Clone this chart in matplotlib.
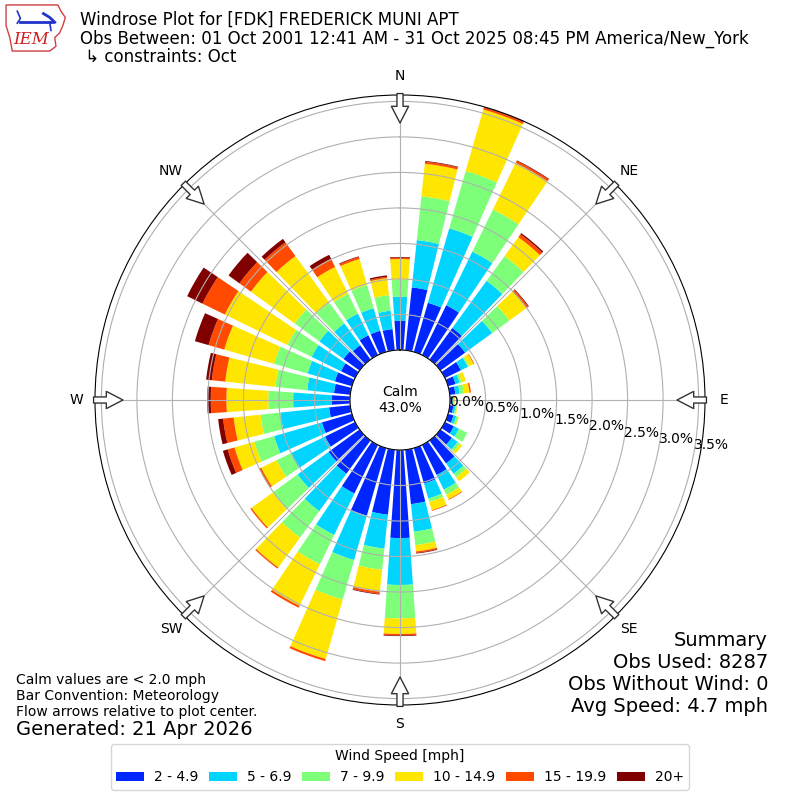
import matplotlib
matplotlib.use("Agg")
import matplotlib.pyplot as plt
import numpy as np
from matplotlib.patches import Patch, Polygon

# direction bins (deg, meteorological) and wind speed bins
directions = np.arange(0, 360, 10)
speed_labels = ["2 - 4.9", "5 - 6.9", "7 - 9.9", "10 - 14.9", "15 - 19.9", "20+"]
colors = ["#0026ff", "#00d4ff", "#7dff7a", "#ffe600", "#ff4a00", "#800000"]

# frequency [%] per direction, one list per speed bin
spd_2 = [0.41, 0.89, 0.72, 0.78, 0.55, 0.43, 0.25, 0.11, 0.08, 0.03, 0.05, 0.08,
         0.14, 0.20, 0.40, 0.47, 0.52, 0.77, 1.24, 0.92, 0.99, 0.76, 0.58, 0.54,
         0.47, 0.44, 0.30, 0.26, 0.23, 0.25, 0.22, 0.28, 0.25, 0.31, 0.31, 0.30]
spd_5 = [0.34, 0.67, 1.09, 0.84, 0.82, 0.47, 0.11, 0.06, 0.06, 0.02, 0.03, 0.04,
         0.08, 0.10, 0.18, 0.23, 0.22, 0.39, 0.66, 0.48, 0.65, 0.65, 0.65, 0.54,
         0.54, 0.70, 0.69, 0.54, 0.38, 0.40, 0.46, 0.42, 0.38, 0.34, 0.33, 0.26]
spd_7 = [0.24, 0.62, 0.84, 0.66, 0.43, 0.30, 0.02, 0.03, 0.06, 0.01, 0.02, 0.03,
         0.13, 0.04, 0.06, 0.08, 0.05, 0.19, 0.47, 0.30, 0.58, 0.46, 0.46, 0.43,
         0.22, 0.29, 0.28, 0.35, 0.45, 0.49, 0.38, 0.43, 0.36, 0.31, 0.34, 0.22]
spd_10 = [0.29, 0.46, 0.90, 0.73, 0.33, 0.30, 0.07, 0.06, 0.08, 0.01, 0.01, 0.01,
          0.00, 0.04, 0.07, 0.07, 0.12, 0.09, 0.22, 0.31, 0.87, 0.65, 0.52, 0.37,
          0.24, 0.29, 0.38, 0.59, 0.71, 0.73, 0.98, 0.76, 0.81, 0.42, 0.38, 0.24]
spd_15 = [0.02, 0.03, 0.03, 0.03, 0.05, 0.03, 0.01, 0.00, 0.02, 0.00, 0.00, 0.00,
          0.00, 0.00, 0.00, 0.01, 0.01, 0.02, 0.02, 0.03, 0.03, 0.03, 0.02, 0.02,
          0.03, 0.10, 0.15, 0.22, 0.19, 0.23, 0.35, 0.20, 0.24, 0.13, 0.03, 0.02]
spd_20 = [0.01, 0.01, 0.01, 0.01, 0.02, 0.01, 0.00, 0.00, 0.00, 0.00, 0.00, 0.00,
          0.00, 0.00, 0.00, 0.00, 0.00, 0.01, 0.01, 0.01, 0.00, 0.00, 0.00, 0.00,
          0.00, 0.07, 0.07, 0.05, 0.08, 0.20, 0.24, 0.19, 0.06, 0.06, 0.01, 0.02]
speed_bins = [spd_2, spd_5, spd_7, spd_10, spd_15, spd_20]

calm_pct = 43.0
rticks = np.arange(0, 3.6, 0.5)
compass = ["N", "NE", "E", "SE", "S", "SW", "W", "NW"]
summary = ["Summary", "Obs Used: 8287", "Obs Without Wind: 0", "Avg Speed: 4.7 mph"]

fig = plt.figure(figsize=(8, 8), dpi=100)
ax = fig.add_axes([0.11875, 0.11875, 0.7625, 0.7625], projection="polar")
ax.set_theta_zero_location("N")
ax.set_theta_direction(-1)

theta = np.radians(directions)
width = np.radians(10) * 0.8
bottom = np.zeros(len(directions))
for vals, c in zip(speed_bins, colors):
    vals = np.array(vals)
    ax.bar(theta, vals, width=width, bottom=bottom, color=c, linewidth=0)
    bottom += vals

rmax = bottom.max()
ax.set_ylim(0, rmax)
ax.set_rorigin(-0.704)
ax.set_rgrids(rticks, labels=[f"{v:.1f}%" for v in rticks], angle=100, fontsize=10)
ax.set_thetagrids(range(0, 360, 45), labels=[""] * 8)

# compass arrows and labels
for ang, name in zip(range(0, 360, 45), compass):
    th = np.radians(ang)
    ax.annotate("", xy=(th, 3.196), xytext=(th, 3.61), annotation_clip=False,
                arrowprops=dict(arrowstyle="simple,head_length=0.6,head_width=0.62,tail_width=0.22",
                                fc="white", ec="#333333", lw=1, shrinkA=0, shrinkB=0,
                                mutation_scale=20))
    ax.text(th, 3.857, name, ha="center", va="center", fontsize=10, clip_on=False)

ax.text(0.5, 0.5, f"Calm\n{calm_pct:.1f}%", transform=ax.transAxes,
        ha="center", va="center", fontsize=10)

# header
fig.text(0.1, 0.986,
         "Windrose Plot for [FDK] FREDERICK MUNI APT\n"
         "Obs Between: 01 Oct 2001 12:41 AM - 31 Oct 2025 08:45 PM America/New_York\n"
         " \u21b3 constraints: Oct",
         ha="left", va="top", fontsize=12, linespacing=1.02)

# summary, one line at a time
for i, line in enumerate(summary):
    fig.text(0.96, 1 - (640 + 22 * i) / 800, line, ha="right", va="center", fontsize=14)

# footer notes
fig.text(0.02, 0.101, "Calm values are < 2.0 mph\nBar Convention: Meteorology\n"
         "Flow arrows relative to plot center.", ha="left", va="bottom", fontsize=10)
fig.text(0.02, 0.076, "Generated: 21 Apr 2026", ha="left", va="bottom", fontsize=14)

handles = [Patch(facecolor=c) for c in colors]
fig.legend(handles, speed_labels, loc="lower center", bbox_to_anchor=(0.5, 0.004),
           ncol=6, title="Wind Speed [mph]", fontsize=10, title_fontsize=10,
           handlelength=2.0, handletextpad=0.7, columnspacing=0.8)

# IEM logo (simplified)
lax = fig.add_axes([0.006, 0.935, 0.078, 0.06])
lax.set_xlim(0, 1)
lax.set_ylim(0, 1)
lax.axis("off")
iowa = [(0.02, 0.98), (0.85, 0.98), (0.9, 0.85), (0.97, 0.72), (0.93, 0.55),
        (0.88, 0.4), (0.8, 0.3), (0.82, 0.12), (0.72, 0.02), (0.12, 0.02),
        (0.08, 0.3), (0.02, 0.55)]
lax.add_patch(Polygon(iowa, closed=True, fill=False, ec="#d04040", lw=1))
lax.plot([0.25, 0.75], [0.62, 0.62], color="#2233cc", lw=2)
lax.plot([0.2, 0.25, 0.2], [0.85, 0.7, 0.6], color="#2233cc", lw=1.2)
lax.plot([0.62, 0.72, 0.8], [0.8, 0.72, 0.62], color="#2233cc", lw=2)
lax.plot([0.72, 0.74], [0.62, 0.45], color="#2233cc", lw=1.2)
lax.text(0.42, 0.25, "IEM", color="#d02020", fontsize=12, style="italic",
         family="DejaVu Serif", ha="center", va="center")

fig.savefig("out.png", dpi=100)
